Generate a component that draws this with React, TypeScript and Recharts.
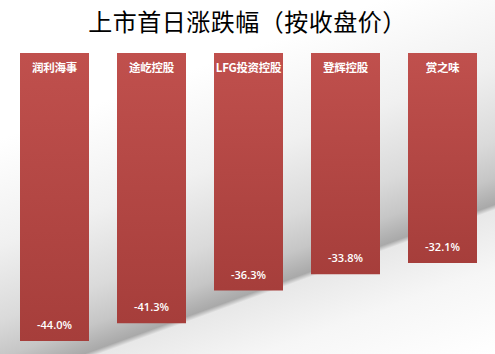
import React from "react";
import { Bar, BarChart, LabelList, XAxis, YAxis } from "recharts";

const companies = ["润利海事", "途屹控股", "LFG投资控股", "登辉控股", "赏之味"];
const firstDayChange = [-44.0, -41.3, -36.3, -33.8, -32.1];

const dataToShow = companies.map((name, i) => ({
  name,
  change: firstDayChange[i],
}));

const barLabel = (props: any) => {
  const { x, y, width, height, index } = props;
  const top = Math.min(y, y + height);
  const bottom = Math.max(y, y + height);
  const cx = x + width / 2;
  return (
    <g>
      <text
        x={cx}
        y={top + 16}
        textAnchor="middle"
        dominantBaseline="middle"
        fill="#ffffff"
        fontSize={11.5}
        fontWeight="bold"
        letterSpacing={-0.3}
        fontFamily="'Noto Sans CJK SC', sans-serif"
      >
        {companies[index]}
      </text>
      <text
        x={cx}
        y={bottom - 15}
        textAnchor="middle"
        dominantBaseline="middle"
        fill="#ffffff"
        fontSize={11}
        fontWeight={600}
        fontFamily="'Open Sans', sans-serif"
      >
        {firstDayChange[index].toFixed(1) + "%"}
      </text>
    </g>
  );
};

function App() {
  return (
    <div
      style={{
        position: "absolute",
        top: 0,
        left: 0,
        width: 495,
        height: 354,
        background:
          "linear-gradient(160deg, #ffffff 0%, #ffffff 26%, #f0f0f0 46%, #dadada 60%, #c6c6c6 67%, #a9a9a9 72%, #e8e8e8 73%, #f6f6f6 84%, #ffffff 100%)",
      }}
    >
      <div
        style={{
          position: "absolute",
          top: 5,
          left: 0,
          width: 495,
          textAlign: "center",
          fontFamily: "'Noto Sans CJK SC', sans-serif",
          fontSize: 24,
          letterSpacing: 0.5,
          lineHeight: "32px",
          color: "#000000",
        }}
      >
        上市首日涨跌幅（按收盘价）
      </div>
      <BarChart
        width={495}
        height={354}
        data={dataToShow}
        margin={{ top: 53, right: 4, bottom: 13, left: 6 }}
        barCategoryGap={14}
        style={{ position: "absolute", top: 0, left: 0 }}
      >
        <defs>
          <linearGradient id="barRed" x1="0" y1="0" x2="0" y2="1">
            <stop offset="0%" stopColor="#c0504d" />
            <stop offset="100%" stopColor="#a63e3b" />
          </linearGradient>
        </defs>
        <XAxis dataKey="name" hide />
        <YAxis hide domain={[-44, 0]} />
        <Bar dataKey="change" fill="url(#barRed)" isAnimationActive={false}>
          <LabelList dataKey="change" content={barLabel} />
        </Bar>
      </BarChart>
    </div>
  );
}

export default App;
